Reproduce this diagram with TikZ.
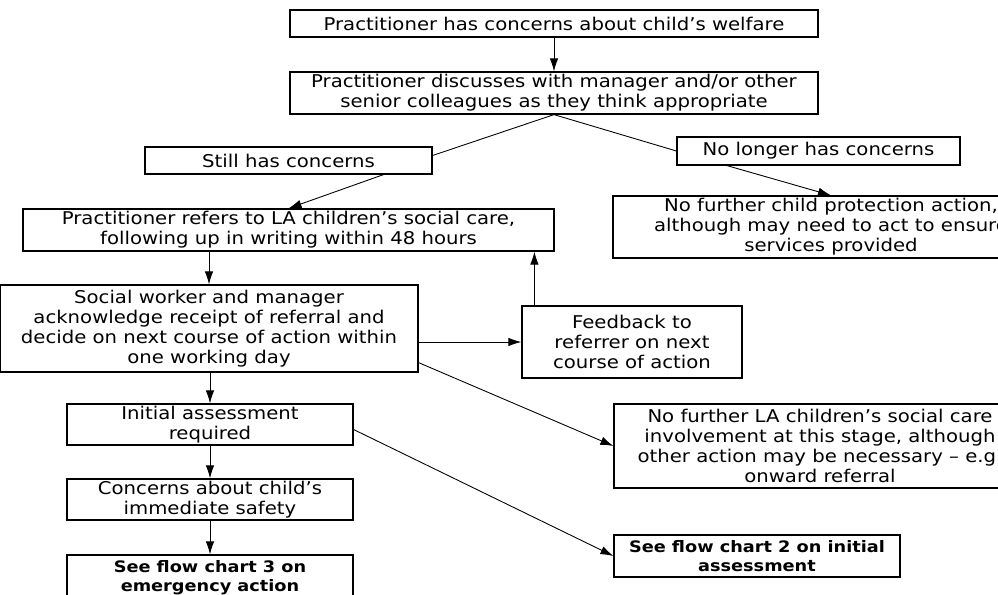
\documentclass[tikz,border=0pt]{standalone}
\usepackage{fontspec}
\setmainfont{DejaVu Sans}[FakeStretch=1.12]
\usepackage{tikz}
\usetikzlibrary{arrows.meta}

\begin{document}
\begin{tikzpicture}[x=0.02cm, y=-0.02cm,
  box/.style={draw, line width=0.7pt, inner sep=1pt, align=center, font=\fontsize{10}{11.4}\selectfont},
  endbox/.style={box, font=\fontsize{9}{10.5}\selectfont\bfseries},
  link/.style={line width=0.5pt},
  arr/.style={link, -{Latex[length=2.6mm,width=1.7mm]}}]
\useasboundingbox (0,0) rectangle (998,595);
\clip (0,0) rectangle (998,595);
\node[box, minimum width=10.56cm, minimum height=0.54cm] (concern) at (554,23.5) {Practitioner has concerns about child's welfare};
\node[box, minimum width=10.56cm, minimum height=0.84cm] (discuss) at (554,93) {Practitioner discusses with manager and/or other\\senior colleagues as they think appropriate};
\node[box, minimum width=5.74cm, minimum height=0.54cm] (still) at (288.5,160.5) {Still has concerns};
\node[box, minimum width=5.66cm, minimum height=0.56cm] (nolonger) at (818.5,151) {No longer has concerns};
\node[box, minimum width=10.62cm, minimum height=0.84cm] (refer) at (288.5,230) {Practitioner refers to LA children's social care,\\following up in writing within 48 hours};
\node[box, minimum width=8.72cm, minimum height=1.24cm] (noaction) at (831,227) {No further child protection action,\\although may need to act to ensure\\services provided};
\node[box, minimum width=8.36cm, minimum height=1.74cm] (decide) at (209,328.5) {Social worker and manager\\acknowledge receipt of referral and\\decide on next course of action within\\one working day};
\node[box, minimum width=4.4cm, minimum height=1.44cm] (feedback) at (632,342) {Feedback to\\referrer on next\\course of action};
\node[box, minimum width=8.24cm, minimum height=1.68cm] (nolainv) at (820,446) {No further LA children's social care\\involvement at this stage, although\\other action may be necessary -- e.g.\\onward referral};
\node[box, minimum width=5.72cm, minimum height=0.82cm] (initial) at (210,424.5) {Initial assessment\\required};
\node[box, minimum width=5.72cm, minimum height=0.82cm] (safety) at (210,499.5) {Concerns about child's\\immediate safety};
\node[endbox, minimum width=5.72cm, minimum height=0.9cm] (chart3) at (210,577.5) {See flow chart 3 on\\emergency action};
\node[endbox, minimum width=5.72cm, minimum height=0.84cm] (chart2) at (757,556) {See flow chart 2 on initial\\assessment};
\draw[arr] (concern) -- (discuss);
\draw[link] ([yshift=0.1cm]still.east) -- (discuss.south) -- (nolonger.west);
\draw[arr] ([xshift=1.9cm]still.south) -- (refer.north);
\draw[arr] ([xshift=-1.83cm]nolonger.south) -- (noaction.north);
\draw[arr] (refer.south -| decide.north) -- (decide.north);
\draw[arr] (decide.east |- feedback.west) -- (feedback.west);
\draw[arr] ([xshift=0.26cm]feedback.north west) -- ([xshift=0.26cm]feedback.north west |- refer.south);
\draw[arr] ([yshift=0.2cm]decide.south east) -- (nolainv.west);
\draw[arr] (initial.north |- decide.south) -- (initial.north);
\draw[arr] ([yshift=-0.1cm]initial.east) -- (chart2.west);
\draw[arr] (initial) -- (safety);
\draw[arr] (safety) -- (chart3);
\end{tikzpicture}
\end{document}
